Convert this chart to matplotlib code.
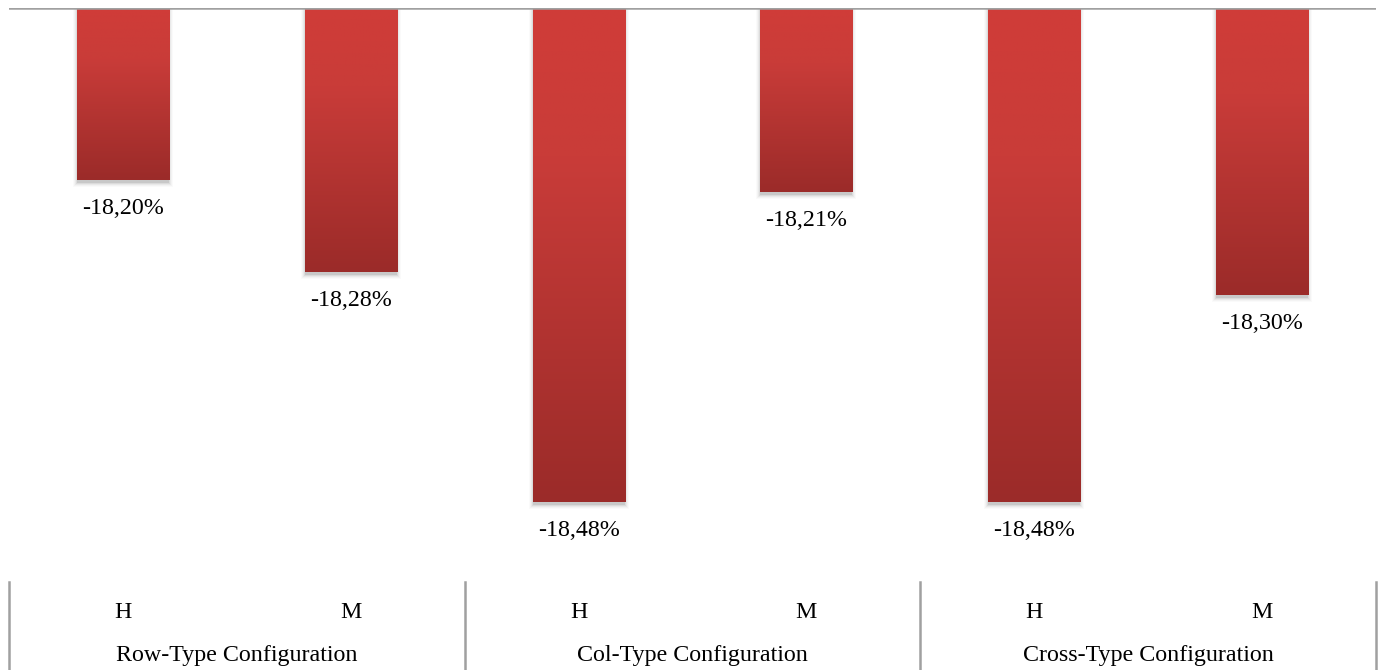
import numpy as np
import matplotlib
matplotlib.use("Agg")
import matplotlib.pyplot as plt
from matplotlib.colors import LinearSegmentedColormap
from matplotlib.patches import Rectangle
import matplotlib.transforms as mtransforms

# Data
groups = ["Row-Type Configuration", "Col-Type Configuration", "Cross-Type Configuration"]
sub_labels = ["H", "M", "H", "M", "H", "M"]
values = [-18.20, -18.28, -18.48, -18.21, -18.48, -18.30]
value_labels = ["-18,20%", "-18,28%", "-18,48%", "-18,21%", "-18,48%", "-18,30%"]
axis_top = -18.05
axis_bottom = -18.55

plt.rcParams["font.family"] = ["Liberation Serif", "DejaVu Serif"]
FS = 17.3

W, H = 1384, 670
fig = plt.figure(figsize=(W / 100, H / 100), dpi=100)
ax = fig.add_axes([9 / W, 88 / H, (1376 - 9) / W, 574 / H])
ax.set_xlim(-0.5, len(values) - 0.5)
ax.set_ylim(axis_bottom, axis_top)
ax.axis("off")

cmap = LinearSegmentedColormap.from_list(
    "bar", [(0.0, "#d03c38"), (0.3, "#c93c39"), (1.0, "#9b2b29")])
grad = np.linspace(0, 1, 256).reshape(-1, 1)
bar_w = 0.404

# pixel -> data unit conversions for the soft shadow
x_per_px = len(values) / (1376 - 9)
y_per_px = (axis_top - axis_bottom) / 574
shadow_dy = 3

for i, v in enumerate(values):
    x0 = i - bar_w / 2
    # blurred shadow built from a few translucent layers
    for k, a in zip(range(5), [0.10, 0.07, 0.05, 0.035, 0.02]):
        grow = float(k)
        sh = Rectangle((x0 - grow * x_per_px, axis_top),
                       bar_w + 2 * grow * x_per_px,
                       (v - axis_top) - (shadow_dy + grow) * y_per_px,
                       facecolor="#303030", edgecolor="none", alpha=a, zorder=1)
        ax.add_patch(sh)
    rect = Rectangle((x0, axis_top), bar_w, v - axis_top,
                     facecolor="none", edgecolor="none", zorder=2)
    ax.add_patch(rect)
    im = ax.imshow(grad, cmap=cmap, aspect="auto",
                   extent=[x0, x0 + bar_w, v, axis_top], origin="upper",
                   zorder=2, interpolation="bilinear")
    im.set_clip_path(rect)
    ax.annotate(value_labels[i], xy=(i, v), xytext=(0, -24.5),
                textcoords="offset points", ha="center", va="baseline",
                fontsize=FS, color="#000000")

ax.axhline(axis_top, color="#a0a0a0", lw=1.8, zorder=3)

# category axis below the plot
trans = mtransforms.blended_transform_factory(ax.transData, ax.transAxes)
for i, lab in enumerate(sub_labels):
    ax.text(i, -36 / 574, lab, transform=trans, ha="center", va="baseline",
            fontsize=FS, clip_on=False)
for g, name in enumerate(groups):
    ax.text(2 * g + 0.5, -79 / 574, name, transform=trans, ha="center",
            va="baseline", fontsize=FS, clip_on=False)
for xs in [-0.5, 1.5, 3.5, 5.5]:
    ax.plot([xs, xs], [0, -90 / 574], transform=trans, color="#a0a0a0",
            lw=1.8, clip_on=False)

ax.set_xlim(-0.5, len(values) - 0.5)
ax.set_ylim(axis_bottom, axis_top)
fig.savefig("out.png", dpi=100)
